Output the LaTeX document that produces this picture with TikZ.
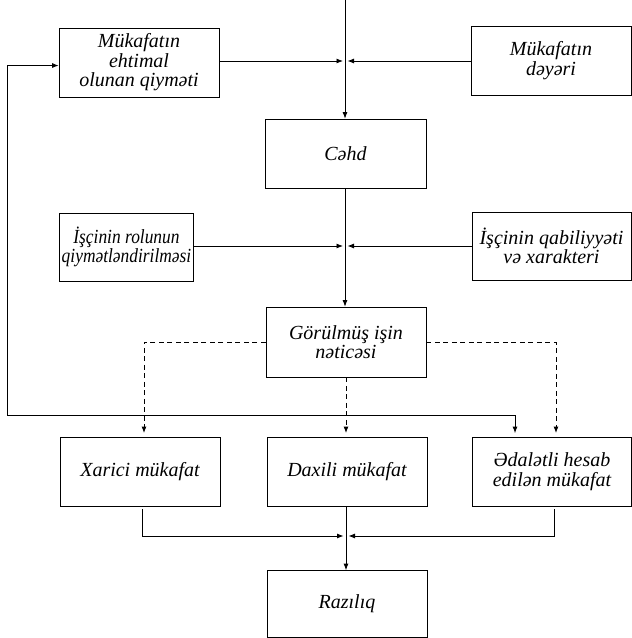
\documentclass[tikz,border=0pt]{standalone}
\usepackage{fontspec}
\usepackage{graphicx}
\setmainfont{Liberation Serif}
\usetikzlibrary{arrows.meta}
% text squeezed sideways to fit a narrow box
\newcommand{\squeezed}[1]{\scalebox{0.87}[1]{#1}}
\begin{document}
\begin{tikzpicture}[x=1pt,y=-1pt,
  box/.style={draw,line width=0.8pt,minimum width=160pt,minimum height=69pt,
    inner sep=2pt,align=center,font=\fontsize{20}{19.5}\selectfont\itshape},
  conn/.style={line width=0.8pt,-{Latex[length=6.5pt,width=5pt]}},
  dsh/.style={line width=1pt,dash pattern=on 5pt off 3.5pt,
    -{Latex[length=6.5pt,width=5pt]},shorten >=3.5pt}]
\useasboundingbox (0,0) rectangle (632,638);

% boxes
\node[box] (b1) at (139,62.5) {Mükafatın\\ehtimal\\olunan qiymәti};
\node[box] (b2) at (551,60.5) {Mükafatın\\dəyəri};
\node[box,minimum width=161pt] (cehd) at (345.5,153.5) {Cəhd};
\node[box,minimum width=133pt,minimum height=68pt] (b3) at (126.5,247)
  {\squeezed{İşçinin rolunun}\\\squeezed{qiymətləndirilməsi}};
\node[box,minimum width=159pt,minimum height=68pt] (b4) at (551.5,246) {İşçinin qabiliyyəti\\və xarakteri};
\node[box,minimum height=70pt] (gor) at (346,342) {Görülmüş işin\\nəticəsi};
\node[box] (xar) at (140,471.5) {Xarici mükafat};
\node[box] (dax) at (347,471.5) {Daxili mükafat};
\node[box,minimum width=159pt] (ed) at (552,471.5) {Ədalətli hesab\\edilən mükafat};
\node[box,minimum height=67pt] (raz) at (347,604) {Razılıq};

% junction points of the main flow
\coordinate (top) at (345,0);
\coordinate (j1) at (345,61);
\coordinate (j2) at (345,246);
\coordinate (j3) at (346,536);
\coordinate (fb) at (7,415);

% main vertical flow
\draw[conn] (top) -- (top |- cehd.north);
\draw[conn] (b1.east |- j1) -- ([xshift=-2pt]j1);
\draw[conn] (b2.west |- j1) -- ([xshift=2.5pt]j1);
\draw[conn] (cehd.south -| top) -- (top |- gor.north);
\draw[conn] (b3.east |- j2) -- ([xshift=-2pt]j2);
\draw[conn] (b4.west |- j2) -- ([xshift=2.5pt]j2);

% outcomes of the work result
\draw[dsh] (gor.west) -| ([xshift=4pt]xar.north);
\draw[dsh] (gor.south) -- (gor.south |- dax.north);
\draw[dsh] (gor.east) -| ([xshift=4pt]ed.north);

% feedback loop
\draw[line width=0.8pt,{Latex[length=6.5pt,width=5pt]}-{Latex[length=6.5pt,width=5pt]},shorten >=3.5pt]
  ([yshift=-3pt]b1.west) -| (fb) -| ([xshift=-37pt]ed.north);

% rewards into satisfaction
\draw[conn] ([shift={(2pt,-3pt)}]xar.south) |- ([xshift=-2.5pt]j3);
\draw[conn] ([shift={(2pt,-3pt)}]ed.south) |- ([xshift=2.5pt]j3);
\draw[conn] (dax.south -| j3) -- (j3 |- raz.north);
\end{tikzpicture}
\end{document}
